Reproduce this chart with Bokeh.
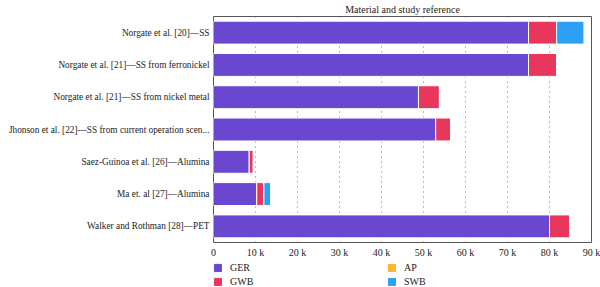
from bokeh.plotting import figure
from bokeh.layouts import column
from bokeh.models import (FactorRange, FixedTicker, CustomJSTickFormatter,
                          Legend, LegendItem, Title)
from bokeh.embed import file_html
from bokeh.resources import INLINE

# Studies, listed top to bottom
studies = [
    "Norgate et al. [20]\u2014SS",
    "Norgate et al. [21]\u2014SS from ferronickel",
    "Norgate et al. [21]\u2014SS from nickel metal",
    "Jhonson et al. [22]\u2014SS from current operation scen...",
    "Saez-Guinoa et al. [26]\u2014Alumina",
    "Ma et. al [27]\u2014Alumina",
    "Walker and Rothman [28]\u2014PET",
]
# Indicator values per study
GER = [75000, 75000, 48800, 52900, 8500, 10300, 80000]
GWB = [6700, 6700, 5000, 3600, 1000, 1700, 4900]
AP = [0, 0, 0, 0, 0, 0, 0]
SWB = [6500, 0, 0, 0, 0, 1600, 0]

series = ["GER", "GWB", "AP", "SWB"]
colors = ["#6a47d1", "#e8375d", "#f7b731", "#2d9ff5"]
x_ticks = [0, 10000, 20000, 30000, 40000, 50000, 60000, 70000, 80000, 90000]

FONT = "Liberation Serif"

p = figure(
    width=600, height=260,
    y_range=FactorRange(*list(reversed(studies))),
    x_range=(0, 90000),
    output_backend="svg", toolbar_location=None,
    min_border_left=213, min_border_right=9, min_border_top=16, min_border_bottom=18,
)
p.title = Title(text="Material and study reference", align="center",
                vertical_align="top",
                text_font=FONT, text_font_size="10px", text_font_style="normal",
                text_color="#222222", standoff=0, offset=0)

data = dict(study=studies, GER=GER, GWB=GWB, AP=AP, SWB=SWB)
p.hbar_stack(series, y="study", height=0.71, source=data,
             color=colors, line_color="white", line_width=1)

p.outline_line_color = "#555555"
p.outline_line_width = 1

p.ygrid.grid_line_color = None
p.xgrid.ticker = FixedTicker(ticks=x_ticks)
p.xgrid.grid_line_color = "#777777"
p.xgrid.grid_line_dash = "1 4"
p.xgrid.grid_line_width = 1

for ax in (p.xaxis, p.yaxis):
    ax.axis_line_color = None
    ax.major_tick_line_color = None
    ax.minor_tick_line_color = None
    ax.major_tick_out = 0
    ax.major_tick_in = 0
    ax.minor_tick_out = 0
    ax.minor_tick_in = 0
    ax.major_label_text_font = FONT
    ax.major_label_text_color = "#222222"

p.xaxis.ticker = FixedTicker(ticks=x_ticks)
p.xaxis.formatter = CustomJSTickFormatter(
    code="return tick == 0 ? '0' : (tick / 1000) + ' k';")
p.xaxis.major_label_text_font_size = "10px"
p.xaxis.major_label_standoff = 4

p.yaxis.major_label_text_font_size = "9.3px"
p.yaxis.major_label_standoff = 4

# Legend strip underneath the chart; its frame lines up with the chart's frame
leg = figure(width=600, height=27, output_backend="svg", toolbar_location=None,
             x_axis_type=None, y_axis_type=None, x_range=(1, 2), y_range=(1, 2),
             min_border_left=0, min_border_right=0, min_border_top=0, min_border_bottom=0)
leg.outline_line_color = None
leg.xgrid.visible = False
leg.ygrid.visible = False
swatches = [leg.hbar(y=[0], left=[0], right=[0], height=0, color=c) for c in colors]

legend = Legend(
    items=[LegendItem(label=s, renderers=[r]) for s, r in zip(series, swatches)],
    orientation="vertical", nrows=2,
    location=(0, 0),
    glyph_width=9, glyph_height=9, label_standoff=8,
    label_width=154, label_height=9,
    label_text_font=FONT, label_text_font_size="10px", label_text_color="#222222",
    spacing=3, padding=0, margin=0,
    border_line_color=None, background_fill_alpha=0,
)
leg.add_layout(legend)

open("out.html", "w").write(file_html(column(p, leg, spacing=0), INLINE))
